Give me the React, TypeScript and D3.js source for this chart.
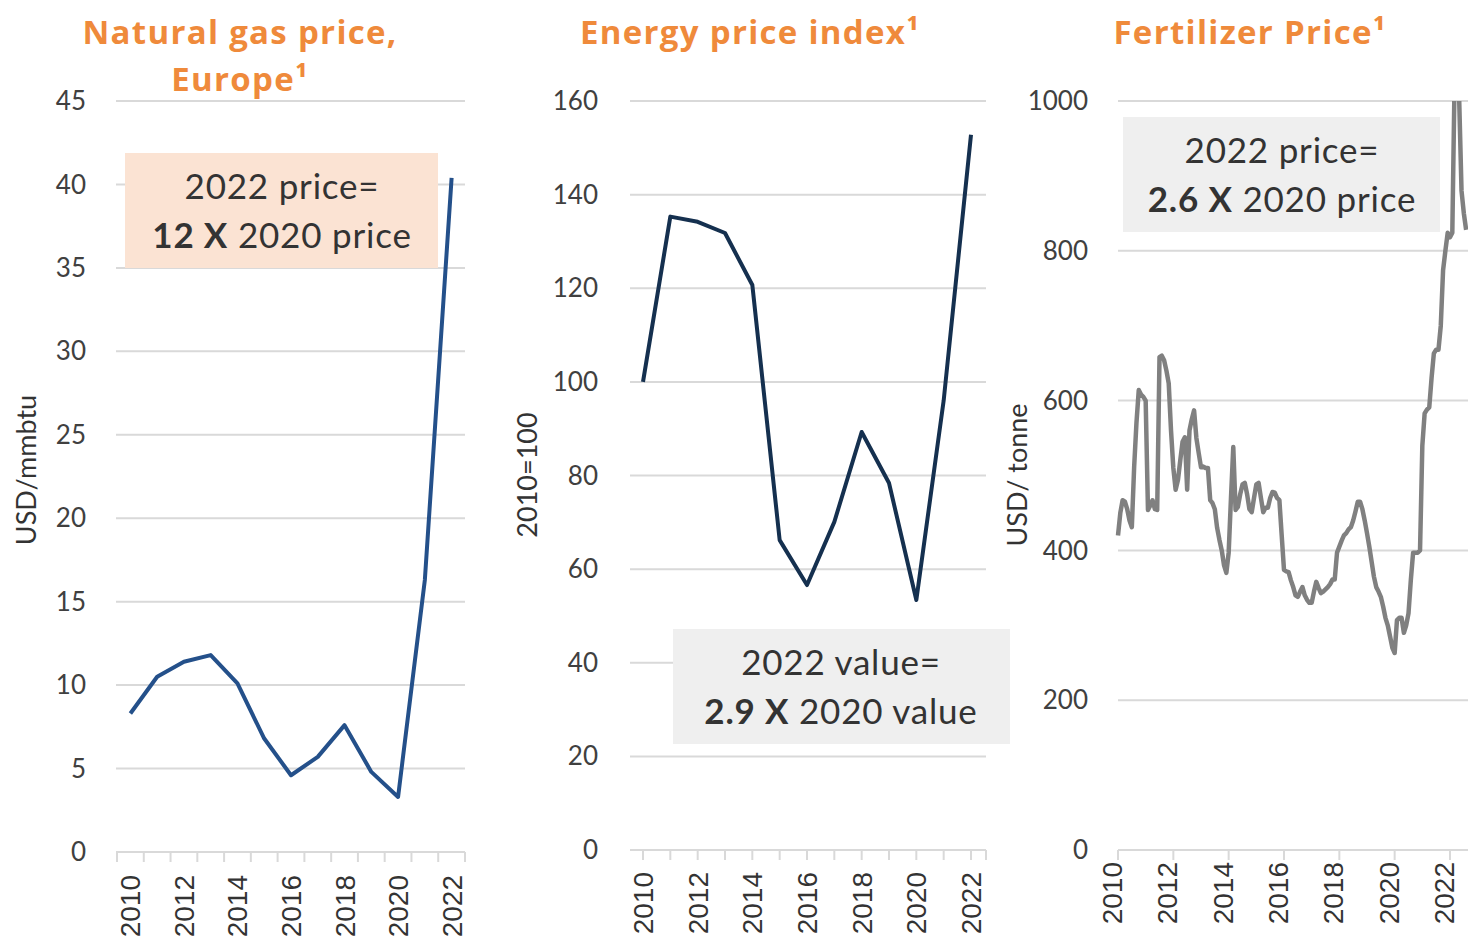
import React from 'react';
import * as d3 from 'd3';

// yearly values
const years = [2010, 2011, 2012, 2013, 2014, 2015, 2016, 2017, 2018, 2019, 2020, 2021, 2022];
const gasPrice = [8.3, 10.5, 11.4, 11.8, 10.1, 6.8, 4.6, 5.7, 7.6, 4.8, 3.3, 16.3, 40.4];
const energyIndex = [100, 135.3, 134.2, 131.8, 120.7, 66.2, 56.6, 70.1, 89.3, 78.4, 53.4, 96, 152.8];

// monthly fertilizer price (USD/tonne), starting Jan 2010
const fertilizerStart = 2010;
const fertilizerPrice = [
  420, 450, 467, 465, 455, 440, 431, 511, 570, 614, 608, 605,
  600, 454, 460, 467, 455, 454, 658, 660, 654, 640, 623, 560,
  510, 481, 494, 520, 545, 551, 481, 560, 575, 587, 550, 530,
  511, 512, 510, 510, 467, 463, 455, 430, 414, 400, 380, 370,
  397, 470, 538, 454, 458, 475, 488, 490, 475, 455, 451, 470,
  488, 490, 470, 451, 457, 457, 470, 478, 477, 470, 467, 420,
  374, 372, 371, 360, 351, 340, 338, 345, 351, 340, 334, 330,
  330, 345, 358, 350, 343, 345, 348, 351, 355, 361, 361, 397,
  405, 413, 420, 423, 428, 431, 440, 452, 465, 465, 455, 440,
  423, 405, 385, 365, 351, 345, 338, 325, 310, 300, 285, 270,
  263, 307, 310, 310, 290, 300, 316, 360, 397, 397, 397, 400,
  540, 583, 588, 591, 630, 663, 668, 668, 700, 774, 800, 824,
  818, 824, 1030, 1030, 1000, 880, 850, 828,
];

const gasTicks = [0, 5, 10, 15, 20, 25, 30, 35, 40, 45];
const energyTicks = [0, 20, 40, 60, 80, 100, 120, 140, 160];
const fertilizerTicks = [0, 200, 400, 600, 800, 1000];
const labelYears = [2010, 2012, 2014, 2016, 2018, 2020, 2022];

const ORANGE = '#ef8a3b';
const GRID = '#d9d9d9';
const TXT = '#404040';
const SANS = 'Lato, "Open Sans", sans-serif';
const TITLE = '"Open Sans", Lato, sans-serif';
const ARIAL = '"Liberation Sans", Arial, sans-serif';

function YAxis({ y, ticks, x0, x1, labelX }) {
  return (
    <g>
      {ticks.map(t => (
        <g key={t}>
          {t !== 0 && <line x1={x0} x2={x1} y1={y(t)} y2={y(t)} stroke={GRID} strokeWidth={2} />}
          <text x={labelX} y={y(t)} dy="0.35em" textAnchor="end" fontFamily={SANS} fontSize={26} fill={TXT}>{t}</text>
        </g>
      ))}
    </g>
  );
}

function YearLabels({ xPos, top }) {
  return (
    <g>
      {labelYears.map(yr => (
        <text key={yr} transform={`translate(${xPos(yr) + 10},${top}) rotate(-90)`}
          textAnchor="end" fontFamily={ARIAL} fontSize={28} fill="#333">{yr}</text>
      ))}
    </g>
  );
}

function NoteBox({ x, y, w, h, fill, line1, bold, line2, cx }) {
  return (
    <g fontFamily={SANS} fontSize={35} fill="#333" letterSpacing={0.8} textAnchor="middle">
      <rect x={x} y={y} width={w} height={h} fill={fill} />
      <text x={cx} y={y + 46}>{line1}</text>
      <text x={cx} y={y + 95}>
        <tspan fontWeight={700}>{bold}</tspan> {line2}
      </text>
    </g>
  );
}

export default function App() {
  // panel 1: natural gas
  const gasX = d3.scaleBand<number>().domain(years).range([117, 465]);
  const gasY = d3.scaleLinear().domain([0, 45]).range([852, 101]);
  const gasLine = d3.line<number>()
    .x((_, i) => gasX(years[i])! + gasX.bandwidth() / 2)
    .y(d => gasY(d));

  // panel 2: energy index
  const enX = d3.scalePoint<number>().domain(years).range([643, 971]);
  const enY = d3.scaleLinear().domain([0, 160]).range([850, 101]);
  const enLine = d3.line<number>()
    .x((_, i) => enX(years[i])!)
    .y(d => enY(d));

  // panel 3: fertilizer, monthly
  const feX = d3.scaleLinear().domain([2010, 2022]).range([1118, 1450]);
  const feY = d3.scaleLinear().domain([0, 1000]).range([850, 101]);
  const feLine = d3.line<number>()
    .x((_, i) => feX(fertilizerStart + i / 12))
    .y(d => feY(d));

  const gasBounds = years.map(yr => gasX(yr)!).concat([465]);

  return (
    <div style={{ position: 'absolute', left: 0, top: 0 }}>
      <svg width={1468} height={939} style={{ display: 'block', background: '#fff' }}>
        <defs>
          <clipPath id="feClip">
            <rect x={1110} y={feY(1000)} width={370} height={feY(0) - feY(1000)} />
          </clipPath>
        </defs>

        {/* titles */}
        <g fontFamily={TITLE} fontWeight={700} fontSize={33} letterSpacing={1.3} fill={ORANGE} textAnchor="middle">
          <text x={240} y={44}>Natural gas price,</text>
          <text x={240} y={91}>Europe¹</text>
          <text x={750} y={44}>Energy price index¹</text>
          <text x={1250} y={44}>Fertilizer Price¹</text>
        </g>

        {/* y titles */}
        <g fontFamily={SANS} fontSize={27} fill="#333" textAnchor="middle">
          <text transform="translate(36,470) rotate(-90)">USD/mmbtu</text>
          <text transform="translate(537,475) rotate(-90)">2010=100</text>
          <text transform="translate(1027,475) rotate(-90)">USD/ tonne</text>
        </g>

        {/* panel 1 */}
        <YAxis y={gasY} ticks={gasTicks} x0={116} x1={465} labelX={86} />
        <line x1={116} x2={465} y1={gasY(0)} y2={gasY(0)} stroke={GRID} strokeWidth={2} />
        {gasBounds.map((bx, i) => (
          <line key={i} x1={bx} x2={bx} y1={gasY(0)} y2={gasY(0) + 10} stroke={GRID} strokeWidth={2} />
        ))}
        <YearLabels xPos={yr => gasX(yr)! + gasX.bandwidth() / 2} top={875} />
        <NoteBox x={125} y={153} w={313} h={115} fill="#fbe3d3" cx={282}
          line1="2022 price=" bold="12 X" line2="2020 price" />
        <path d={gasLine(gasPrice)!} fill="none" stroke="#24508a" strokeWidth={4} strokeLinejoin="round" />

        {/* panel 2 */}
        <YAxis y={enY} ticks={energyTicks} x0={630} x1={986} labelX={598} />
        <line x1={630} x2={986} y1={enY(0)} y2={enY(0)} stroke={GRID} strokeWidth={2} />
        {years.map(yr => (
          <line key={yr} x1={enX(yr)} x2={enX(yr)} y1={enY(0)} y2={enY(0) + 10} stroke={GRID} strokeWidth={2} />
        ))}
        <line x1={986} x2={986} y1={enY(0)} y2={enY(0) + 10} stroke={GRID} strokeWidth={2} />
        <YearLabels xPos={yr => enX(yr)!} top={872} />
        <NoteBox x={673} y={629} w={337} h={115} fill="#efefef" cx={841}
          line1="2022 value=" bold="2.9 X" line2="2020 value" />
        <path d={enLine(energyIndex)!} fill="none" stroke="#15304f" strokeWidth={4} strokeLinejoin="round" />

        {/* panel 3 */}
        <YAxis y={feY} ticks={fertilizerTicks} x0={1118} x1={1468} labelX={1088} />
        <line x1={1118} x2={1468} y1={feY(0)} y2={feY(0)} stroke={GRID} strokeWidth={2} />
        {labelYears.map(yr => (
          <line key={yr} x1={feX(yr)} x2={feX(yr)} y1={feY(0)} y2={feY(0) + 10} stroke={GRID} strokeWidth={2} />
        ))}
        <YearLabels xPos={yr => feX(yr) - 6} top={862} />
        <NoteBox x={1123} y={117} w={317} h={115} fill="#efefef" cx={1282}
          line1="2022 price=" bold="2.6 X" line2="2020 price" />
        <path d={feLine(fertilizerPrice)!} clipPath="url(#feClip)" fill="none" stroke="#808080" strokeWidth={4.5} strokeLinejoin="round" />
      </svg>
    </div>
  );
}
